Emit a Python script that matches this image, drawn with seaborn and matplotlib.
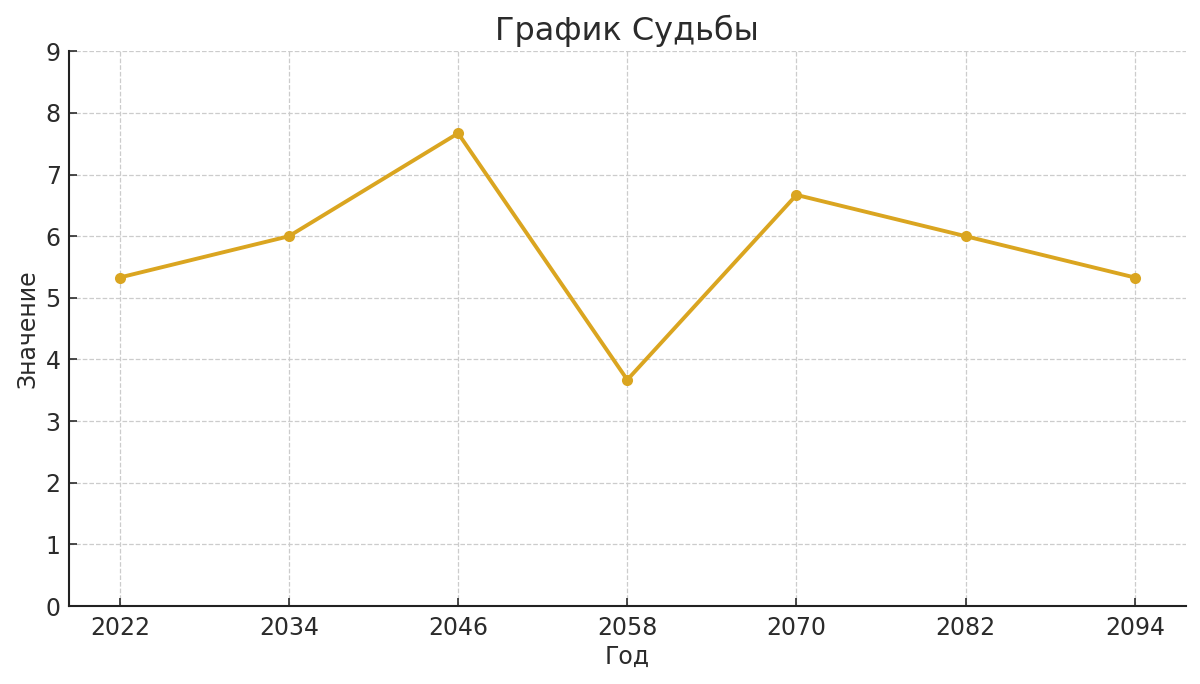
import matplotlib
matplotlib.use("Agg")
import matplotlib.pyplot as plt
import seaborn as sns
import pandas as pd

# годы и значения
years = [2022, 2034, 2046, 2058, 2070, 2082, 2094]
values = [5.33, 6.0, 7.67, 3.67, 6.67, 6.0, 5.33]

df = pd.DataFrame({"Год": years, "Значение": values})

sns.set_style("ticks")
plt.rcParams["font.family"] = ["DejaVu Sans"]
plt.rcParams["text.color"] = "#2b2b2b"
plt.rcParams["axes.labelcolor"] = "#2b2b2b"
plt.rcParams["xtick.color"] = "#2b2b2b"
plt.rcParams["ytick.color"] = "#2b2b2b"
plt.rcParams["xtick.direction"] = "in"
plt.rcParams["ytick.direction"] = "in"

fig, ax = plt.subplots(figsize=(12, 6.84), dpi=100)
sns.lineplot(data=df, x="Год", y="Значение", color="goldenrod", linewidth=2.8,
             marker="o", markersize=8, markeredgewidth=0, ax=ax)

ax.set_xticks(years)
ax.set_ylim(0, 9)
ax.set_yticks(range(0, 10))
ax.grid(True, linestyle="--", color="#cccccc", linewidth=0.9)
sns.despine(ax=ax)
ax.spines["left"].set_linewidth(1.5)
ax.spines["bottom"].set_linewidth(1.5)
ax.spines["left"].set_color("#222222")
ax.spines["bottom"].set_color("#222222")
ax.tick_params(labelsize=17, length=6, width=1.2)
ax.tick_params(axis="x", pad=7)
ax.tick_params(axis="y", pad=6)

ax.set_title("График Судьбы", fontsize=23, pad=8)
ax.set_xlabel("Год", fontsize=17, labelpad=4)
ax.set_ylabel("Значение", fontsize=17, labelpad=4)

fig.subplots_adjust(left=0.0575, right=0.988, top=0.925, bottom=0.114)
fig.savefig("out.png")
